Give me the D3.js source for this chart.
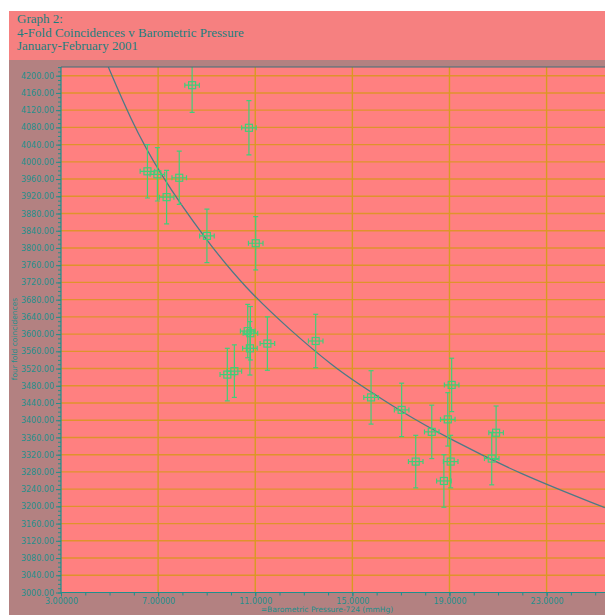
<!DOCTYPE html>
<html>
<head>
<meta charset="utf-8">
<script src="https://cdn.jsdelivr.net/npm/d3@7"></script>
<style>
  html, body { margin: 0; padding: 0; background: #ffffff; }
  svg { display: block; }
</style>
</head>
<body>
<svg id="chart" width="605" height="615"></svg>
<script>
// Barometric pressure offset (mmHg above 724) for each run
const pressure = [8.40, 10.74, 6.56, 6.97, 7.87, 7.35, 9.01, 11.02, 10.69, 10.80, 10.78, 11.50,
                  9.85, 10.14, 13.49, 15.77, 17.03, 19.09, 18.93, 18.27, 17.61, 19.05, 18.77, 20.92, 20.74];
// Four-fold coincidence counts
const coincidences = [4178, 4079, 3978, 3971, 3963, 3918, 3828, 3811, 3607, 3602, 3567, 3578,
                      3506, 3514, 3584, 3453, 3424, 3482, 3402, 3373, 3304, 3304, 3259, 3371, 3311];
// Uncertainties
const countErr = [63, 63, 62, 62, 62, 62, 62, 62, 62, 62, 62, 62,
                  61, 61, 62, 62, 62, 62, 62, 62, 61, 61, 61, 62, 61];
const pressureErr = [0.3, 0.3, 0.3, 0.3, 0.3, 0.3, 0.3, 0.3, 0.3, 0.3, 0.3, 0.3,
                     0.3, 0.3, 0.3, 0.3, 0.3, 0.3, 0.3, 0.3, 0.3, 0.3, 0.3, 0.3, 0.3];
// Trend curve
const trendX = [4.95, 5.84, 7.0, 9.0, 10.58, 12.43, 14.28, 15.11, 17.0, 19.02, 21.9, 25.4];
const trendY = [4220, 4102, 3977, 3816, 3708, 3609, 3522, 3490, 3420, 3356, 3275, 3197];
// Axis ticks
const xTickValues = [3, 7, 11, 15, 19, 23];
const xTickLabels = ["3.00000", "7.00000", "11.0000", "15.0000", "19.0000", "23.0000"];
const yTickValues = d3.range(3000, 4201, 40);
const titleLines = ["Graph 2:", "4-Fold Coincidences v Barometric Pressure", "January-February 2001"];

const svg = d3.select("#chart");
const W = 605, H = 615;

const plot = { left: 61, right: 605, top: 67, bottom: 592.5 };
const x = d3.scaleLinear().domain([3, 23]).range([61, 546.6]);
const y = d3.scaleLinear().domain([3000, 4200]).range([592.5, 75.7]);

const teal = "#1f8f8c";
const green = "#3fcf78";
const grid = "#e0922c";

// Backgrounds
svg.append("rect").attr("x", 9).attr("y", 11).attr("width", W - 9).attr("height", H - 11).attr("fill", "#b38181");
svg.append("rect").attr("x", 9).attr("y", 11).attr("width", W - 9).attr("height", 49).attr("fill", "#f68080");
svg.append("rect").attr("x", plot.left).attr("y", plot.top)
  .attr("width", plot.right - plot.left).attr("height", plot.bottom - plot.top).attr("fill", "#ff8080");

// Title
svg.append("g").selectAll("text").data(titleLines).join("text")
  .attr("x", 17).attr("y", (d, i) => 23 + i * 13.5)
  .attr("font-family", "'Liberation Serif', 'Times New Roman', serif")
  .attr("font-size", 13).attr("fill", "#1c7f7e").text(d => d);

svg.append("defs").append("clipPath").attr("id", "plotclip")
  .append("rect").attr("x", plot.left).attr("y", plot.top)
  .attr("width", plot.right - plot.left).attr("height", plot.bottom - plot.top);

const g = svg.append("g").attr("clip-path", "url(#plotclip)");

// Grid lines
g.append("g").selectAll("line").data(yTickValues.slice(1)).join("line")
  .attr("x1", plot.left).attr("x2", plot.right)
  .attr("y1", d => y(d)).attr("y2", d => y(d))
  .attr("stroke", grid).attr("stroke-width", 1.4);
g.append("g").selectAll("line").data(xTickValues.slice(1)).join("line")
  .attr("y1", plot.top).attr("y2", plot.bottom)
  .attr("x1", d => x(d)).attr("x2", d => x(d))
  .attr("stroke", "#d89a22").attr("stroke-width", 1.4);

// Trend curve
const trend = trendX.map((v, i) => [v, trendY[i]]);
g.append("path").datum(trend)
  .attr("d", d3.line().x(d => x(d[0])).y(d => y(d[1])).curve(d3.curveBasis))
  .attr("fill", "none").attr("stroke", "#4d7a86").attr("stroke-width", 1.3);

// Data points with error bars
const pts = pressure.map((p, i) => ({ p, c: coincidences[i], ec: countErr[i], ep: pressureErr[i] }));
const pg = g.append("g").attr("stroke", green).attr("fill", "none").attr("stroke-width", 1.2);
const cap = 2.5;
pts.forEach(d => {
  const cx = x(d.p), cy = y(d.c);
  const yt = y(d.c + d.ec), yb = y(d.c - d.ec);
  const xl = x(d.p - d.ep), xr = x(d.p + d.ep);
  pg.append("line").attr("x1", cx).attr("x2", cx).attr("y1", yt).attr("y2", yb);
  pg.append("line").attr("x1", cx - cap).attr("x2", cx + cap).attr("y1", yt).attr("y2", yt);
  pg.append("line").attr("x1", cx - cap).attr("x2", cx + cap).attr("y1", yb).attr("y2", yb);
  pg.append("line").attr("x1", xl).attr("x2", xr).attr("y1", cy).attr("y2", cy);
  pg.append("line").attr("x1", xl).attr("x2", xl).attr("y1", cy - cap).attr("y2", cy + cap);
  pg.append("line").attr("x1", xr).attr("x2", xr).attr("y1", cy - cap).attr("y2", cy + cap);
  pg.append("rect").attr("x", cx - 3.5).attr("y", cy - 3.5).attr("width", 7).attr("height", 7);
});

// Axes
const fontAxis = "'DejaVu Sans', Verdana, sans-serif";
const yAxis = d3.axisLeft(y).tickValues(yTickValues).tickFormat(d3.format(".2f")).tickSize(5).tickPadding(2);
const yg = svg.append("g").attr("transform", `translate(${plot.left},0)`).call(yAxis);
const yMinor = d3.axisLeft(y).tickValues(d3.range(3000, 4221, 10)).tickFormat("").tickSize(3);
const ymg = svg.append("g").attr("transform", `translate(${plot.left},0)`).call(yMinor);

const xAxis = d3.axisBottom(x).tickValues(xTickValues).tickFormat((d, i) => xTickLabels[i]).tickSize(4).tickPadding(2);
const xg = svg.append("g").attr("transform", `translate(0,${plot.bottom})`).call(xAxis);
const xMinor = d3.axisBottom(x).tickValues(d3.range(3, 26, 1)).tickFormat("").tickSize(3);
const xmg = svg.append("g").attr("transform", `translate(0,${plot.bottom})`).call(xMinor);

[yg, ymg, xg, xmg].forEach(a => {
  a.select(".domain").remove();
  a.selectAll("line").attr("stroke", teal).attr("stroke-width", 1);
  a.selectAll("text").attr("fill", teal).attr("font-family", fontAxis).attr("font-size", 8);
});

// Frame lines
svg.append("line").attr("x1", plot.left).attr("x2", plot.left).attr("y1", plot.top).attr("y2", plot.bottom)
  .attr("stroke", teal).attr("stroke-width", 1.2);
svg.append("line").attr("x1", plot.left).attr("x2", plot.right).attr("y1", plot.bottom).attr("y2", plot.bottom)
  .attr("stroke", teal).attr("stroke-width", 1.2);
svg.append("line").attr("x1", plot.left).attr("x2", plot.right).attr("y1", plot.top).attr("y2", plot.top)
  .attr("stroke", "#3f6f78").attr("stroke-width", 1);

// Axis titles
svg.append("text").attr("x", 327).attr("y", 612).attr("text-anchor", "middle")
  .attr("font-family", fontAxis).attr("font-size", 7.5).attr("fill", teal)
  .text("=Barometric Pressure-724  (mmHg)");
svg.append("text").attr("transform", "translate(17,339) rotate(-90)").attr("text-anchor", "middle")
  .attr("font-family", fontAxis).attr("font-size", 7.5).attr("fill", teal)
  .text("four fold coincidences");
</script>
</body>
</html>
